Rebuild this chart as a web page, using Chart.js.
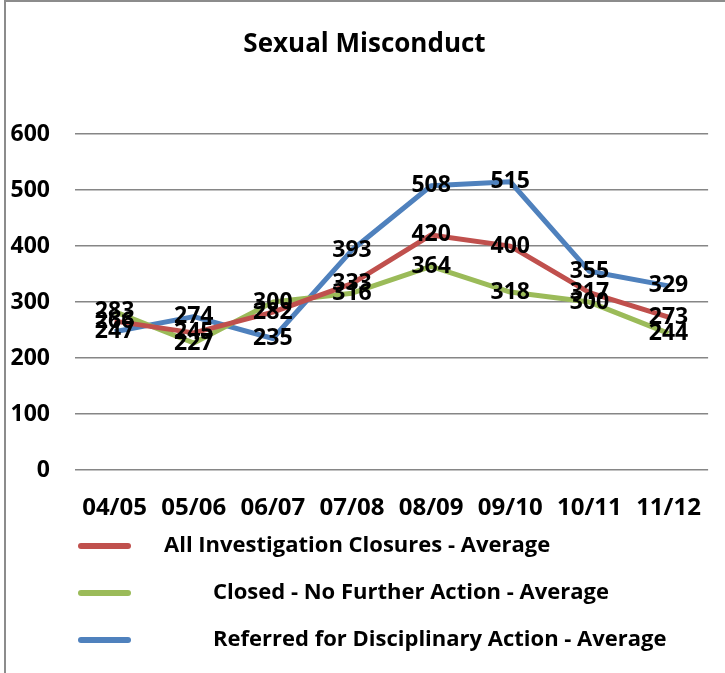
<!DOCTYPE html>
<html>
<head>
<meta charset="utf-8">
<script src="https://cdn.jsdelivr.net/npm/chart.js@4/dist/chart.umd.min.js"></script>
<style>
  body { margin: 0; background: #fff; }
  .wrap { position: relative; width: 725px; height: 673px; }
  .frame-left { position: absolute; left: 4px; top: 0; width: 2px; height: 673px; background: #8c8c8c; }
  .frame-top { position: absolute; left: 4px; top: 0; width: 721px; height: 2px; background: #8c8c8c; }
</style>
</head>
<body>
<div class="wrap">
  <canvas id="chart" width="725" height="673"></canvas>
  <div class="frame-left"></div>
  <div class="frame-top"></div>
</div>
<script>
const years = ["04/05", "05/06", "06/07", "07/08", "08/09", "09/10", "10/11", "11/12"];
const allClosures = [266, 245, 282, 333, 420, 400, 317, 273];
const noFurtherAction = [283, 227, 300, 316, 364, 318, 300, 244];
const referredDisciplinary = [247, 274, 235, 393, 508, 515, 355, 329];
const yTicks = [0, 100, 200, 300, 400, 500, 600];

const FONT = "'Open Sans', sans-serif";

// value labels centred on each point
const valueLabels = {
  id: "valueLabels",
  afterDatasetsDraw(chart) {
    const ctx = chart.ctx;
    ctx.save();
    ctx.font = "bold 23px " + FONT;
    ctx.fillStyle = "#000";
    ctx.textAlign = "center";
    ctx.textBaseline = "middle";
    chart.data.datasets.forEach((ds, i) => {
      chart.getDatasetMeta(i).data.forEach((pt, j) => {
        ctx.fillText(ds.data[j], pt.x, pt.y);
      });
    });
    ctx.restore();
  }
};

// legend stacked under the axis, text indented like the original
const legendRows = {
  id: "legendRows",
  afterDraw(chart) {
    const ctx = chart.ctx;
    const rowY = [546, 593, 640];
    const textX = [164, 213, 213];
    ctx.save();
    ctx.font = "bold 22px " + FONT;
    ctx.textBaseline = "middle";
    ctx.textAlign = "left";
    chart.data.datasets.forEach((ds, i) => {
      ctx.strokeStyle = ds.borderColor;
      ctx.lineWidth = 6;
      ctx.lineCap = "round";
      ctx.beginPath();
      ctx.moveTo(81, rowY[i]);
      ctx.lineTo(128, rowY[i]);
      ctx.stroke();
      ctx.fillStyle = "#000";
      ctx.fillText(ds.label, textX[i], rowY[i]);
    });
    ctx.restore();
  }
};

new Chart(document.getElementById("chart").getContext("2d"), {
  type: "line",
  data: {
    labels: years,
    datasets: [
      { label: "All Investigation Closures - Average", data: allClosures, borderColor: "#C0504D" },
      { label: "Closed - No Further Action - Average", data: noFurtherAction, borderColor: "#9BBB59" },
      { label: "Referred for Disciplinary Action - Average", data: referredDisciplinary, borderColor: "#4F81BD" }
    ].map(d => Object.assign(d, { borderWidth: 5, pointRadius: 0, tension: 0, fill: false, borderJoinStyle: "round" }))
  },
  options: {
    responsive: false,
    animation: false,
    layout: { padding: { left: 5, right: 1, top: 0, bottom: 155 } },
    plugins: {
      legend: { display: false },
      tooltip: { enabled: false },
      title: {
        display: true,
        text: "Sexual Misconduct",
        color: "#000",
        font: { family: FONT, size: 26, weight: "bold" },
        padding: { top: 29, bottom: 74 }
      }
    },
    scales: {
      x: {
        offset: true,
        grid: { display: false, drawTicks: false },
        border: { display: false },
        ticks: { color: "#000", font: { family: FONT, size: 24, weight: "bold" }, padding: 24, maxRotation: 0, autoSkip: false },
        afterFit(s) { s.height = 48; }
      },
      y: {
        min: 0,
        max: 600,
        afterBuildTicks(s) { s.ticks = yTicks.map(v => ({ value: v })); },
        grid: { color: "#868686", lineWidth: 1.5, drawTicks: false },
        border: { display: false },
        ticks: { color: "#000", font: { family: FONT, size: 23, weight: "bold" }, padding: 25 },
        afterFit(s) { s.width = 70; }
      }
    }
  },
  plugins: [valueLabels, legendRows]
});
</script>
</body>
</html>
